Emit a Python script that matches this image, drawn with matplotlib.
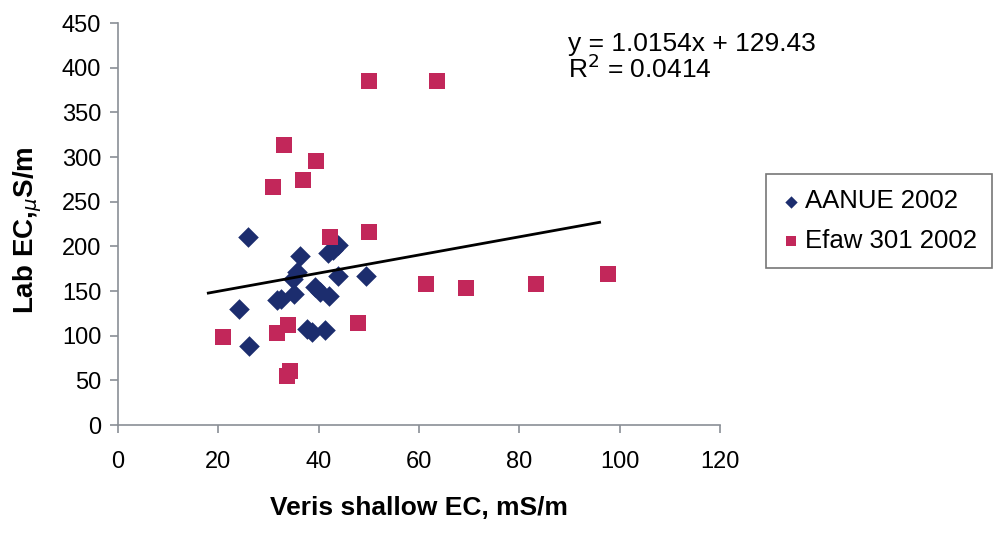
import numpy as np
import matplotlib.pyplot as plt

plt.rcParams['font.family'] = ['Liberation Sans', 'DejaVu Sans']

# AANUE 2002 (blue diamonds)
aanue_x = [26.0, 24.2, 26.1, 36.3, 35.6, 34.9, 41.9, 42.9, 43.9, 43.9,
           49.4, 39.3, 40.3, 42.1, 35.1, 31.6, 32.5, 37.6, 38.6, 41.3]
aanue_y = [210, 130, 89, 189, 171, 164, 193, 196, 201, 167,
           167, 155, 149, 144, 147, 140, 141, 108, 104, 106]

# Efaw 301 2002 (red squares)
efaw_x = [33.1, 39.4, 30.9, 36.9, 42.3, 50.0, 20.9, 31.6, 33.9, 47.8,
          34.3, 33.6, 50.1, 63.5, 61.3, 69.3, 83.3, 97.6]
efaw_y = [313, 295, 266, 274, 211, 216, 99, 103, 112, 114,
          60, 55, 385, 385, 158, 153, 158, 169]

# linear trend shown on the chart
slope, intercept = 1.0154, 129.43
trend_range = [18, 96]

fig = plt.figure(figsize=(9.95, 5.33), dpi=100)
ax = fig.add_axes([0.1186, 0.2026, 0.605, 0.7542])

ax.scatter(aanue_x, aanue_y, marker='D', s=110, color='#1c2d6e',
           label='AANUE 2002', zorder=3, linewidths=0)
ax.scatter(efaw_x, efaw_y, marker='s', s=120, color='#c2275a',
           label='Efaw 301 2002', zorder=3, linewidths=0)

tx = np.array(trend_range)
ax.plot(tx, slope * tx + intercept, color='black', lw=2, zorder=4)

ax.set_xlim(0, 120)
ax.set_ylim(0, 450)
ax.set_xticks(np.arange(0, 121, 20))
ax.set_yticks(np.arange(0, 451, 50))
for s in ['top', 'right']:
    ax.spines[s].set_visible(False)
for s in ['left', 'bottom']:
    ax.spines[s].set_color('#8a8f96')
    ax.spines[s].set_linewidth(1.2)
ax.tick_params(colors='#8a8f96', length=6, width=1.2, labelcolor='black',
               labelsize=17)
ax.tick_params(axis='x', pad=13)
ax.tick_params(axis='y', pad=6)

ax.set_xlabel('Veris shallow EC, mS/m', fontsize=19, fontweight='bold',
              labelpad=16)
ax.set_ylabel(r'Lab EC,$_{\mu}$S/m', fontsize=20, fontweight='bold')
ax.yaxis.set_label_coords(-0.123, 0.485)

fig.text(0.571, 0.94, 'y = 1.0154x + 129.43\nR$^2$ = 0.0414',
         fontsize=19, va='top', ha='left', linespacing=0.95)

leg = ax.legend(loc='center left', bbox_to_anchor=(1.077, 0.507), fontsize=18.5,
                frameon=True, fancybox=False, edgecolor='#555555',
                handletextpad=0.2, handlelength=0.7, borderpad=0.6,
                labelspacing=0.6, scatterpoints=1, markerscale=0.6,
                borderaxespad=0)
leg.get_frame().set_linewidth(1.2)

fig.savefig('out.png', dpi=100)
